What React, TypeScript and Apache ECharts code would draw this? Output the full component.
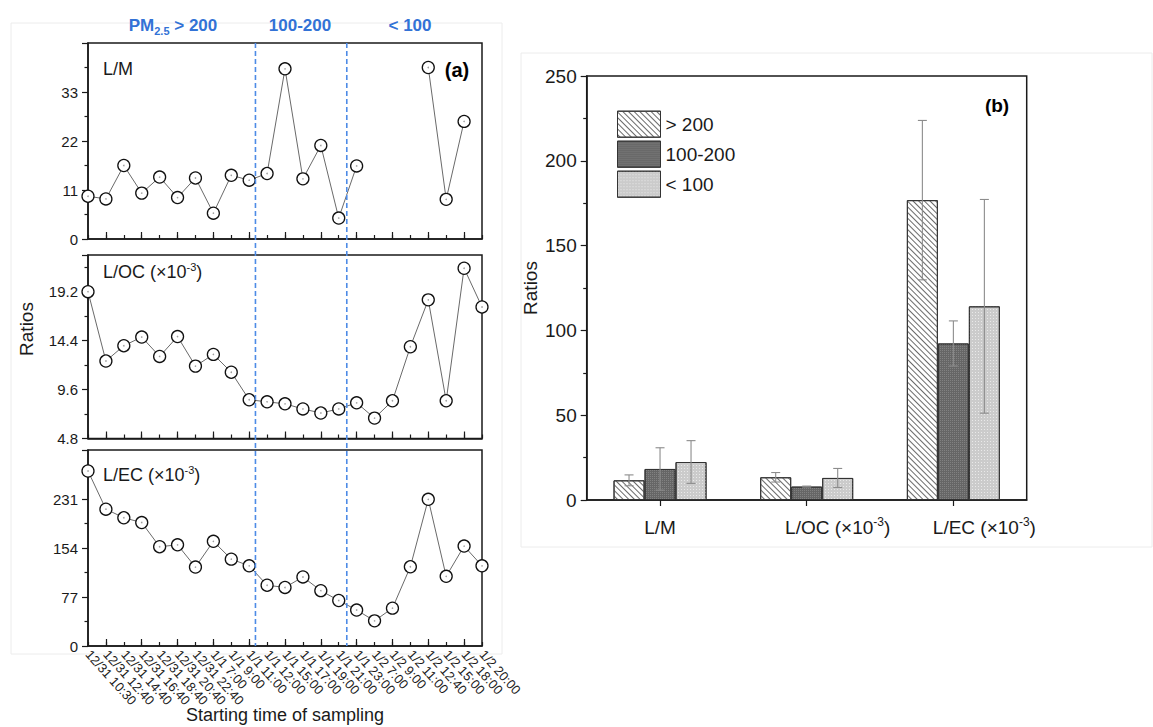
import React, { useEffect, useRef } from 'react';
import * as echarts from 'echarts';

// ---------------- DATA ----------------
const sampleTimes = [
  '12/31 10:30', '12/31 12:40', '12/31 14:40', '12/31 16:40', '12/31 18:40', '12/31 20:40',
  '12/31 22:40', '1/1 7:00', '1/1 9:00', '1/1 11:00', '1/1 12:00', '1/1 15:00', '1/1 17:00',
  '1/1 19:00', '1/1 21:00', '1/1 23:00', '1/2 7:00', '1/2 9:00', '1/2 11:00', '1/2 12:40',
  '1/2 15:00', '1/2 18:00', '1/2 20:00',
];

const ratioLM = [9.6, 9.0, 16.5, 10.3, 13.9, 9.3, 13.7, 5.8, 14.3, 13.2, 14.7, 38.2, 13.5, 21.0, 4.7, 16.4, null, null, null, 38.5, 8.9, 26.4, null];
const ratioLOC = [19.2, 12.4, 13.9, 14.75, 12.85, 14.8, 11.9, 13.05, 11.3, 8.6, 8.4, 8.2, 7.7, 7.3, 7.7, 8.3, 6.8, 8.5, 13.8, 18.4, 8.5, 21.5, 17.7];
const ratioLEC = [275, 215, 201.5, 194, 156, 159, 124, 164.5, 136.5, 126, 95.5, 92, 108.5, 87, 71.5, 56.5, 39.5, 59.5, 124.5, 230.5, 109.5, 157, 126];

const lmTicks = [0, 11, 22, 33];
const locTicks = [4.8, 9.6, 14.4, 19.2];
const lecTicks = [0, 77, 154, 231];

// PM2.5 class boundaries, in sample-index units
const pmBoundaries = [9.35, 14.45];
const pmClassLabels = ['> 200', '100-200', '< 100'];

const ratioCategories = ['L/M', 'L/OC (×10-3)', 'L/EC (×10-3)'];
const meanGt200 = [11.6, 13.4, 176.8];
const sdGt200 = [3.2, 2.8, 47];
const meanMid = [18.3, 7.9, 92.3];
const sdMid = [12.5, 0.3, 13.3];
const meanLt100 = [22.4, 13.0, 114.2];
const sdLt100 = [12.6, 5.6, 63];
const barTicks = [0, 50, 100, 150, 200, 250];

// ---------------- LAYOUT ----------------
const FONT = 'Liberation Sans, Arial, Helvetica, sans-serif';
const A_LEFT = 88;
const A_W = 394;
const gridsA = [
  { top: 43, height: 196 },
  { top: 255, height: 183.5 },
  { top: 450, height: 196 },
];
const BAR_W = 31;
const INK = '#1a1a1a';

function makeLabelFormatter(ticks: number[], digits: number) {
  return (v: number) => (ticks.some((t) => Math.abs(t - v) < 1e-6) ? v.toFixed(digits) : '');
}

function buildOption() {
  const grid: any[] = gridsA.map((g) => ({
    left: A_LEFT, width: A_W, top: g.top, height: g.height,
    show: true, borderColor: INK, borderWidth: 1.5, backgroundColor: 'transparent',
  }));
  grid.push({ left: 586.7, top: 76, width: 440, height: 424, show: true, borderColor: INK, borderWidth: 1.5, backgroundColor: 'transparent' });

  const xAxis: any[] = [];
  [0, 1, 2].forEach((gi) => {
    xAxis.push({
      type: 'category', gridIndex: gi, data: sampleTimes, boundaryGap: false, position: 'bottom',
      axisLine: { show: true, lineStyle: { color: INK, width: 1.5 } },
      axisTick: { show: true, inside: true, length: 7, interval: (i: number) => i % 2 === 1, lineStyle: { color: INK, width: 1.2 } },
      axisLabel: gi === 2
        ? { show: true, interval: 0, rotate: -48, fontSize: 13, color: INK, margin: 6, fontFamily: FONT }
        : { show: false },
      splitLine: { show: false },
    });
    xAxis.push({
      type: 'category', gridIndex: gi, data: sampleTimes, boundaryGap: false, position: 'bottom',
      axisLine: { show: false },
      axisTick: { show: true, inside: true, length: 4, interval: 0, lineStyle: { color: INK, width: 1.2 } },
      axisLabel: { show: false },
      splitLine: { show: false },
    });
  });
  xAxis.push({
    type: 'category', gridIndex: 3, data: ratioCategories,
    axisLine: { show: true, lineStyle: { color: INK, width: 1.5 } },
    axisTick: { show: true, alignWithLabel: true, length: 6, lineStyle: { color: INK, width: 1.2 } },
    axisLabel: {
      show: true, interval: 0, margin: 16, color: INK, fontFamily: FONT,
      formatter: (v: string) => {
        if (v.indexOf('(×10-3)') >= 0) {
          const base = v.split(' (')[0];
          return '{pad|}{n|' + base + ' (×10}{s|-3}{n|)}';
        }
        return '{n|' + v + '}';
      },
      rich: {
        n: { fontSize: 19, fontFamily: FONT, color: INK, lineHeight: 22 },
        s: { fontSize: 12, fontFamily: FONT, color: INK, verticalAlign: 'top', lineHeight: 12 },
        pad: { width: 62 },
      },
    },
  });

  const yCommon = (gi: number) => ({
    type: 'value', gridIndex: gi,
    axisLine: { show: true, lineStyle: { color: INK, width: 1.5 } },
    axisTick: { show: true, inside: false, length: 6, lineStyle: { color: INK, width: 1.2 } },
    minorTick: { show: true, splitNumber: 2, length: 3.5, lineStyle: { color: INK, width: 1.2 } },
    splitLine: { show: false },
  });
  const yAxis: any[] = [
    { ...yCommon(0), min: 0, max: 44, interval: 11, axisLabel: { fontSize: 15, color: INK, margin: 10, fontFamily: FONT, formatter: makeLabelFormatter(lmTicks, 0) } },
    { ...yCommon(1), min: 4.8, max: 22.8, interval: 4.8, axisLabel: { fontSize: 15, color: INK, margin: 10, fontFamily: FONT, formatter: makeLabelFormatter(locTicks, 1) } },
    { ...yCommon(2), min: 0, max: 308, interval: 77, axisLabel: { fontSize: 15, color: INK, margin: 10, fontFamily: FONT, formatter: makeLabelFormatter(lecTicks, 0) } },
    {
      ...yCommon(3), min: 0, max: 250, interval: 50,
      axisLabel: { fontSize: 19, color: INK, margin: 10, fontFamily: FONT, formatter: makeLabelFormatter(barTicks, 0) },
      name: 'Ratios', nameLocation: 'middle', nameGap: 47,
      nameTextStyle: { fontSize: 19, color: INK, fontFamily: FONT },
    },
  ];

  const lineData = [ratioLM, ratioLOC, ratioLEC];
  const series: any[] = [];
  lineData.forEach((d, gi) => {
    series.push({
      type: 'line', xAxisIndex: gi * 2, yAxisIndex: gi,
      data: d.map((v) => (v == null ? '-' : v)),
      symbol: 'circle', symbolSize: 12, showSymbol: true, showAllSymbol: true,
      lineStyle: { color: '#6a6a6a', width: 1 },
      itemStyle: { color: '#ffffff', borderColor: '#111', borderWidth: 1.3 },
      z: 3, clip: false, connectNulls: false,
    });
    series.push({
      type: 'scatter', xAxisIndex: gi * 2, yAxisIndex: gi,
      data: d.map((v) => (v == null ? '-' : v)),
      symbol: 'circle', symbolSize: 1.6, silent: true,
      itemStyle: { color: '#888' }, z: 4, clip: false,
    });
  });

  const groups = [
    { name: pmClassLabels[0], mean: meanGt200, sd: sdGt200, color: '#ffffff',
      decal: { symbol: 'rect', symbolSize: 1, dashArrayX: [1, 0], dashArrayY: [1, 2.2], rotation: Math.PI / 4, color: '#6a6a6a' } },
    { name: pmClassLabels[1], mean: meanMid, sd: sdMid, color: '#666666',
      decal: { symbol: 'rect', symbolSize: 1, dashArrayX: [1, 1], dashArrayY: [1, 1], color: 'rgba(150,150,150,0.55)' } },
    { name: pmClassLabels[2], mean: meanLt100, sd: sdLt100, color: '#cbcbcb',
      decal: { symbol: 'rect', symbolSize: 1, dashArrayX: [1, 2], dashArrayY: [1, 2], color: 'rgba(240,240,240,0.8)' } },
  ];
  groups.forEach((g) => {
    series.push({
      type: 'bar', name: g.name, xAxisIndex: 6, yAxisIndex: 3, data: g.mean,
      barWidth: BAR_W, barGap: '0%',
      itemStyle: { color: g.color, borderColor: '#333', borderWidth: 1, decal: g.decal },
      z: 2,
    });
  });
  groups.forEach((g, gi) => {
    series.push({
      type: 'custom', xAxisIndex: 6, yAxisIndex: 3, z: 5, silent: true,
      data: g.mean.map((m, ci) => [ci, m - g.sd[ci], m + g.sd[ci]]),
      encode: { x: 0, y: [1, 2] },
      renderItem: (params: any, api: any) => {
        const ci = api.value(0);
        const lo = api.coord([ci, api.value(1)]);
        const hi = api.coord([ci, api.value(2)]);
        const x = lo[0] + (gi - 1) * BAR_W;
        const st = { stroke: '#8c8c8c', lineWidth: 1.1 };
        return {
          type: 'group',
          children: [
            { type: 'line', shape: { x1: x, y1: lo[1], x2: x, y2: hi[1] }, style: st },
            { type: 'line', shape: { x1: x - 4.5, y1: lo[1], x2: x + 4.5, y2: lo[1] }, style: st },
            { type: 'line', shape: { x1: x - 4.5, y1: hi[1], x2: x + 4.5, y2: hi[1] }, style: st },
          ],
        };
      },
    });
  });

  const sepX = (b: number) => A_LEFT + (b * A_W) / (sampleTimes.length - 1);
  const blue = '#3272d6';
  const graphic: any[] = [
    { type: 'rect', shape: { x: 11, y: 23, width: 491, height: 631 }, style: { fill: 'none', stroke: '#ececec', lineWidth: 1 }, silent: true, z: -10 },
    { type: 'rect', shape: { x: 521, y: 53, width: 631, height: 494 }, style: { fill: 'none', stroke: '#ececec', lineWidth: 1 }, silent: true, z: -10 },
    ...pmBoundaries.map((b) => ({
      type: 'line', shape: { x1: sepX(b), y1: 43, x2: sepX(b), y2: 646 },
      style: { stroke: '#4d8be6', lineWidth: 1.6, lineDash: [5, 3] }, silent: true, z: 10,
    })),
    {
      type: 'text', x: 173, y: 25,
      style: {
        text: '{a|PM}{b|2.5}{a| ' + pmClassLabels[0] + '}', align: 'center', verticalAlign: 'middle',
        rich: {
          a: { fontSize: 17, fontWeight: 'bold', fill: blue, fontFamily: FONT, lineHeight: 22 },
          b: { fontSize: 11, fontWeight: 'bold', fill: blue, fontFamily: FONT, verticalAlign: 'bottom', lineHeight: 11 },
        },
      },
    },
    { type: 'text', x: 300, y: 25, style: { text: pmClassLabels[1], align: 'center', verticalAlign: 'middle', fontSize: 17, fontWeight: 'bold', fill: blue, fontFamily: FONT } },
    { type: 'text', x: 410, y: 25, style: { text: pmClassLabels[2], align: 'center', verticalAlign: 'middle', fontSize: 17, fontWeight: 'bold', fill: blue, fontFamily: FONT } },
    { type: 'text', x: 103, y: 69, style: { text: 'L/M', verticalAlign: 'middle', fontSize: 18, fill: INK, fontFamily: FONT } },
    {
      type: 'text', x: 103, y: 272,
      style: {
        text: '{n|L/OC (×10}{s|-3}{n|)}', verticalAlign: 'middle',
        rich: { n: { fontSize: 18, fill: INK, fontFamily: FONT, lineHeight: 22 }, s: { fontSize: 11, fill: INK, fontFamily: FONT, verticalAlign: 'top', lineHeight: 11 } },
      },
    },
    {
      type: 'text', x: 103, y: 475,
      style: {
        text: '{n|L/EC (×10}{s|-3}{n|)}', verticalAlign: 'middle',
        rich: { n: { fontSize: 18, fill: INK, fontFamily: FONT, lineHeight: 22 }, s: { fontSize: 11, fill: INK, fontFamily: FONT, verticalAlign: 'top', lineHeight: 11 } },
      },
    },
    { type: 'text', x: 457, y: 70, style: { text: '(a)', align: 'center', verticalAlign: 'middle', fontSize: 20, fontWeight: 'bold', fill: '#000', fontFamily: FONT } },
    { type: 'text', x: 997, y: 105, style: { text: '(b)', align: 'center', verticalAlign: 'middle', fontSize: 19, fontWeight: 'bold', fill: '#000', fontFamily: FONT } },
    { type: 'text', x: 26, y: 329, rotation: Math.PI / 2, style: { text: 'Ratios', align: 'center', verticalAlign: 'middle', fontSize: 19, fill: INK, fontFamily: FONT } },
    { type: 'text', x: 285, y: 715, style: { text: 'Starting time of sampling', align: 'center', verticalAlign: 'middle', fontSize: 18, fill: INK, fontFamily: FONT } },
  ];

  return {
    animation: false,
    backgroundColor: '#ffffff',
    textStyle: { fontFamily: FONT },
    grid, xAxis, yAxis, series, graphic,
    legend: {
      data: pmClassLabels, orient: 'vertical', left: 617, top: 110.7, padding: 0,
      itemWidth: 43, itemHeight: 26, itemGap: 3, icon: 'rect', selectedMode: false,
      textStyle: { fontSize: 19, color: INK, fontFamily: FONT },
      itemStyle: { borderColor: '#333', borderWidth: 1 },
    },
  };
}

export default function App() {
  const ref = useRef<HTMLDivElement>(null);
  useEffect(() => {
    if (!ref.current) return;
    const chart = echarts.init(ref.current, null, { renderer: 'svg' });
    chart.setOption(buildOption() as any);
    return () => chart.dispose();
  }, []);
  return (
    <div
      ref={ref}
      style={{ position: 'absolute', left: 0, top: 0, width: 1153, height: 727, background: '#fff' }}
    />
  );
}
